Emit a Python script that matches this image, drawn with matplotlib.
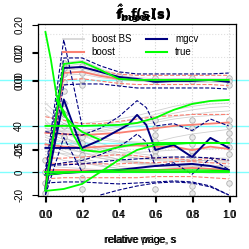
import matplotlib
matplotlib.use('Agg')
import matplotlib.pyplot as plt

plt.rcParams['font.family'] = ['Liberation Sans', 'DejaVu Sans']

# common grid on s
gx = [0, 0.1, 0.2, 0.3, 0.4, 0.5, 0.6, 0.7, 0.8, 0.9, 1.0]

# boost BS replicates (light gray)
bs_lines = [
    [-10, 88, 90, 85, 82, 80, 79, 79, 80, 80, 80],
    [-16, 92, 94, 88, 81, 79, 80, 81, 81, 80, 79],
    [-5, 84, 85, 82, 80, 80, 81, 80, 79, 79, 80],
    [60, 45, 35, 30, 27, 26, 25, 25, 25, 25, 25],
    [50, 40, 32, 28, 26, 25, 25, 24, 25, 26, 25],
    [30, 25, 20, 18, 17, 17, 18, 19, 20, 20, 21],
    [40, 38, 36, 38, 40, 42, 45, 48, 50, 52, 53],
    [40, 40, 40, 41, 43, 46, 50, 54, 57, 59, 60],
    [20, 15, 10, 6, 3, 2, 1, 1, 1, 0, 0],
    [25, 18, 12, 8, 5, 3, 2, 2, 1, 1, 1],
    [15, 10, 8, 5, 3, 2, 1, 0, 0, 0, 1],
    [5, 4, 3, 2, 1, 0, 0, 0, 0, -1, -1],
    [35, 28, 22, 17, 14, 12, 11, 10, 10, 10, 10],
    [45, 30, 22, 20, 21, 23, 26, 30, 33, 35, 37],
    [38, 30, 24, 19, 15, 12, 10, 9, 9, 8, 8],
    [32, 26, 20, 15, 11, 8, 6, 5, 5, 5, 4],
    [28, 22, 17, 12, 9, 7, 5, 4, 4, 3, 3],
    [42, 34, 27, 21, 17, 14, 12, 11, 10, 10, 9],
    [22, 20, 17, 14, 11, 9, 7, 6, 6, 6, 5],
    [55, 42, 32, 25, 20, 16, 14, 13, 12, 12, 12],
    [18, 16, 14, 12, 10, 8, 7, 6, 5, 5, 5],
    [36, 35, 34, 36, 39, 43, 47, 51, 54, 56, 57],
    [42, 41, 42, 44, 46, 49, 53, 57, 60, 62, 63],
    [38, 36, 35, 35, 37, 40, 43, 46, 48, 49, 50],
    [-12, 95, 97, 90, 84, 82, 81, 81, 81, 81, 81],
    [-8, 86, 88, 84, 81, 79, 78, 78, 78, 78, 78],
]

# true functions (green)
true_up = [-15.7, 93.9, 95.7, 88.7, 80.9, 80, 80, 80, 80, 80, 80]
true_a_x = [0, 0.03, 0.06, 0.1, 0.15, 0.2, 0.3]
true_a = [121.7, 97.4, 67, 49.6, 40.9, 34.8, 27.8]
true_b_x = [0, 0.2, 0.4, 0.5, 0.6, 0.7, 0.8, 0.9, 1.0]
true_b = [40, 40, 40.9, 42.6, 47, 54, 59.1, 61.7, 62.6]
true_c_x = [0.06, 0.1, 0.15, 0.2, 0.3, 0.4, 0.5, 0.6, 0.8, 1.0]
true_c = [62.6, 53, 33, 19, 17.4, 21.7, 24.3, 25.2, 25.2, 25.2]
true_d_x = [0, 0.1, 0.2, 0.3, 0.4, 0.5, 0.6, 0.8, 1.0]
true_d = [-16.5, -14.8, -10.4, 0, 10.4, 19.1, 23.5, 25.2, 25.2]
true_lo = [0, 0, 0, 0, 0, 0, 0, 0, 0, 0, 0]
true_lo2 = [-2.6, -1, 0, 1, 1.7, 1.7, 1.7, 1.7, 1.7, 1.5, 0.9]

# mgcv fits (navy) with bands
mgcv_up = [-13.9, 90.4, 91.3, 87, 82.6, 80.9, 78.3, 79.1, 79.1, 80, 78.3]
mgcv_up_hi = [-2.6, 99.1, 99.1, 92.2, 87, 85.2, 85.2, 85.2, 85.2, 85.2, 86]
mgcv_up_lo = [-20, 75.7, 76.5, 76.5, 74.8, 73, 73, 73, 73, 73, 72]
mgcv_mid_x = [0, 0.1, 0.2, 0.3, 0.4, 0.45, 0.5, 0.55, 0.6, 0.7, 0.8, 0.9, 1.0]
mgcv_mid = [20.9, 20.9, 20.9, 27.8, 36.5, 40.9, 49.6, 40.9, 19.1, 23.5, 13, 29.6, 20.9]
mgcv_mid_hi = [35, 33, 32, 38, 48, 55, 62, 56, 40, 42, 36, 46, 40]
mgcv_mid_lo = [5, 8, 10, 15, 22, 27, 33, 26, 5, 8, -2, 12, 2]
mgcv_spike_x = [0, 0.1, 0.2]
mgcv_spike = [-15.7, 63, 20]
mgcv_spike_hi = [0, 115, 40]
mgcv_spike_lo = [-20, 30, 0]
mgcv_lo = [-2.6, -0.9, 0, 0.9, 1.7, 3.5, 5.2, 6.1, 7, 5.2, 1.7]
mgcv_lo_hi = [6.1, 6.1, 7, 8.7, 10.4, 11.3, 12.2, 13, 13, 12.2, 10.4]
mgcv_lo_lo = [-9.6, -8.7, -8.7, -9.6, -10.4, -9.6, -8.7, -7.8, -8.7, -12.2, -20]
mgcv_arc_x = [0.3, 0.4, 0.5, 0.6, 0.7, 0.8, 0.9, 1.0]
mgcv_arc = [-20, -15.7, -12.2, -9.6, -8.7, -9.6, -13, -20]

# boost fits (salmon)
boost_up = [-12.2, 86.1, 87, 83.5, 80.9, 80, 80, 80, 80, 80, 79.1]
boost_up_hi = [-5, 90, 91, 88, 85, 84, 84, 84, 84, 84, 84]
boost_up_lo = [-18, 80, 81, 79, 77, 76, 76, 76, 76, 76, 75]
boost_mid = [34, 33, 32, 33, 34, 36, 38, 40, 41, 42, 43]
boost_mid2 = [24, 22, 21, 22, 23, 23, 22, 22, 19, 22, 20]
boost_mid_hi = [48, 45, 42, 42, 44, 46, 48, 49, 50, 50, 50]
boost_mid_lo = [12, 12, 13, 14, 15, 14, 12, 12, 10, 12, 10]
boost_lo = [1.7, 1.7, 1.2, 1, 1, 1.2, 1.7, 2.6, 3.5, 2.6, 1.7]
boost_lo_hi = [8, 7, 7, 7, 7, 8, 8, 9, 9, 8, 7]
boost_lo_lo = [-6, -5, -5, -5, -5, -5, -4, -4, -4, -5, -6]

# bootstrap point estimates (gray circles)
circ_x = ([0.1] * 7 + [0.2] * 4 + [0.4] * 3 + [0.6] * 2 + [0.8] * 2 + [1.0] * 3
          + [0.6] * 7 + [0.8] * 6 + [1.0] * 6 + [0.2] * 8 + [0.0] * 4 + [0.1] * 3
          + [0.6, 0.8, 0.8, 1.0])
circ_y = ([95, 90, 85, 78, 70, 60, 50] + [92, 86, 80, 76] + [84, 80, 77] + [82, 79]
          + [82, 79] + [82, 79, 76]
          + [45, 38, 32, 27, 22, 18, 14] + [45, 38, 30, 24, 18, 14]
          + [45, 40, 34, 28, 22, 16] + [30, 25, 20, 15, 10, 5, -5, -15]
          + [10, 0, -10, -18] + [50, 40, 30] + [-15, -12, -18, -10])

# reference levels
ref_levels = [80, 40, 25.2, 0]

navy = '#000080'
salmon = '#FA8072'
green = '#00FF00'

fig = plt.figure(figsize=(2.49, 2.49), dpi=100)
pos = [0.153, 0.213, 0.795, 0.691]
ax = fig.add_axes(pos)
ax.set_xlim(-0.04, 1.04)
ax.set_ylim(-20.87, 128.7)

for xv in [0.0, 0.2, 0.4, 0.6, 0.8, 1.0]:
    ax.axvline(xv, color='#d3d3d3', ls=':', lw=0.8, zorder=0)
for yv in [-20, 0, 20, 40, 60, 80, 100, 120]:
    ax.axhline(yv, color='#e0e0e0', ls=':', lw=0.8, zorder=0)

for yv in ref_levels:
    ax.plot([-0.3, 1.25], [yv, yv], color='#80ffff', lw=1.0, clip_on=False, zorder=0.5)

for line in bs_lines:
    ax.plot(gx, line, color='#bdbdbd', lw=0.6, alpha=0.7, zorder=1)

ax.scatter(circ_x, circ_y, s=16, facecolor='#e6e6e6', edgecolor='#a0a0a0',
           linewidth=0.6, alpha=0.8, zorder=2)

# boost
for yy in [boost_up_hi, boost_up_lo, boost_mid_hi, boost_mid_lo, boost_lo_hi, boost_lo_lo]:
    ax.plot(gx, yy, color=salmon, ls='--', lw=0.8, zorder=3)
for yy in [boost_up, boost_mid, boost_mid2, boost_lo]:
    ax.plot(gx, yy, color=salmon, lw=1.3, zorder=3)

# mgcv
for yy in [mgcv_up_hi, mgcv_up_lo, mgcv_lo_hi, mgcv_lo_lo]:
    ax.plot(gx, yy, color=navy, ls='--', lw=0.8, zorder=4)
ax.plot(mgcv_mid_x, mgcv_mid_hi, color=navy, ls='--', lw=0.8, zorder=4)
ax.plot(mgcv_mid_x, mgcv_mid_lo, color=navy, ls='--', lw=0.8, zorder=4)
ax.plot(mgcv_spike_x, mgcv_spike_hi, color=navy, ls='--', lw=0.8, zorder=4)
ax.plot(mgcv_spike_x, mgcv_spike_lo, color=navy, ls='--', lw=0.8, zorder=4)
ax.plot(mgcv_arc_x, mgcv_arc, color=navy, ls='--', lw=0.8, zorder=4)
ax.plot(gx, mgcv_up, color=navy, lw=1.4, zorder=5)
ax.plot(gx, mgcv_lo, color=navy, lw=1.4, zorder=5)
ax.plot(mgcv_mid_x, mgcv_mid, color=navy, lw=1.4, zorder=5)
ax.plot(mgcv_spike_x, mgcv_spike, color=navy, lw=1.4, zorder=5)

# true
ax.plot(gx, true_up, color=green, lw=1.3, zorder=6)
ax.plot(true_a_x, true_a, color=green, lw=1.3, zorder=6)
ax.plot(true_b_x, true_b, color=green, lw=1.3, zorder=6)
ax.plot(true_c_x, true_c, color=green, lw=1.3, zorder=6)
ax.plot(true_d_x, true_d, color=green, lw=1.3, zorder=6)
ax.plot(gx, true_lo, color=green, lw=1.3, zorder=6)
ax.plot(gx, true_lo2, color=green, lw=1.0, zorder=6)

ax.set_xticks([0.0, 0.2, 0.4, 0.6, 0.8, 1.0])
ax.set_xticklabels(['0.0', '0.2', '0.4', '0.6', '0.8', '1.0'])
ax.set_yticks([-20, 0, 20, 40])
ax.set_yticklabels(['-20', '0', '20', '40'], rotation=90, va='center')
ax.tick_params(labelsize=7, length=4, width=0.8, pad=6)
for sp in ax.spines.values():
    sp.set_linewidth(0.9)

# legend
handles = [
    plt.Line2D([], [], color='#d3d3d3', lw=1.2),
    plt.Line2D([], [], color=salmon, lw=1.5),
    plt.Line2D([], [], color=navy, lw=1.5),
    plt.Line2D([], [], color=green, lw=1.5),
]
ax.legend(handles, ['boost BS', 'boost', 'mgcv', 'true'], ncol=2, frameon=False,
          loc='upper left', bbox_to_anchor=(0.08, 0.99), fontsize=7,
          handlelength=2.2, columnspacing=1.5, handletextpad=0.8, labelspacing=0.3)

# overlaid panels (other axis scales)
ax2 = fig.add_axes(pos, facecolor='none')
ax2.set_xlim(-0.045, 1.035)
ax2.set_ylim(-0.4107, 0.2036)
ax2.set_xticks([0.0, 0.2, 0.4, 0.6, 0.8, 1.0])
ax2.set_xticklabels(['0.0', '0.2', '0.4', '0.6', '0.8', '1.0'])
ax2.set_yticks([0.2, 0.1, 0.0])
ax2.set_yticklabels(['0.20', '0.10', '0.00'], rotation=90, va='center')
ax2.tick_params(labelsize=7, length=4, width=0.8, pad=6)
for sp in ax2.spines.values():
    sp.set_visible(False)

ax3 = fig.add_axes(pos, facecolor='none')
ax3.set_xlim(-0.04, 1.04)
ax3.set_ylim(-0.829, 0.4)
ax3.set_xticks([])
ax3.set_yticks([0.2, 0.0, -0.5])
ax3.set_yticklabels(['0.2', '0.0', '-0.5'], rotation=90, va='center')
ax3.tick_params(labelsize=7, length=4, width=0.8, pad=6)
for sp in ax3.spines.values():
    sp.set_visible(False)

# titles and axis labels drawn on top of each other
for t in [r'$\mathbf{\hat{f}_{boost}(s)}$', r'$\mathbf{\hat{f}_{mgcv}(s)}$', r'$\mathbf{f(s)}$']:
    fig.text(0.575, 0.945, t, ha='center', va='center', fontsize=9.5)
fig.text(0.565, 0.036, 'relative price, s', ha='center', va='center', fontsize=7.5)
fig.text(0.565, 0.036, 'relative wage, s', ha='center', va='center', fontsize=7.5)

fig.savefig('out.png', dpi=100)
